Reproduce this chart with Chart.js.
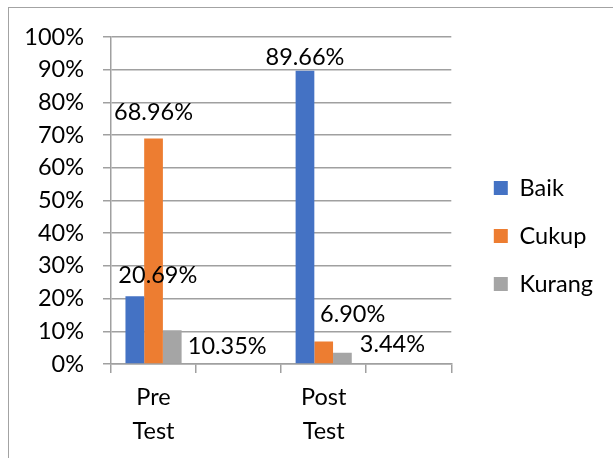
<!DOCTYPE html>
<html>
<head>
<meta charset="utf-8">
<script src="https://cdn.jsdelivr.net/npm/chart.js@4/dist/chart.umd.min.js"></script>
<style>
    html, body { margin: 0; padding: 0; background: #fff; }
    #wrap { position: relative; width: 613px; height: 458px; overflow: hidden; }
    #frame { position: absolute; left: 8px; top: 7px; width: 700px; height: 600px; border: 1.5px solid #a3a3a3; }
    #chart { position: absolute; left: 0; top: 0; }
</style>
</head>
<body>
<div id="wrap">
    <div id="frame"></div>
    <canvas id="chart" width="613" height="458"></canvas>
</div>
<script>
// Chart data
const categories = [['Pre', 'Test'], '', ['Post', 'Test'], ''];
const seriesNames = ['Baik', 'Cukup', 'Kurang'];
const baik = [20.69, null, 89.66, null];
const cukup = [68.96, null, 6.90, null];
const kurang = [10.35, null, 3.44, null];
const yTicks = [0, 10, 20, 30, 40, 50, 60, 70, 80, 90, 100];

const colors = ['#4472C4', '#ED7D31', '#A5A5A5'];
const gridColor = '#a0a0a0';
const fontFamily = 'Lato, "Open Sans", sans-serif';
const fontSize = 23.5;

// label nudges (dx, dy from bar top centre), per series / category
const labelOffsets = [
    [[23, -21], null, [0, -13], null],
    [[0, -26], null, [29, -27], null],
    [[55, 16], null, [50, -8], null]
];

/**
 * Draw value labels next to each bar
 */
const valueLabels = {
    id: 'valueLabels',
    afterDatasetsDraw(chart) {
        const ctx = chart.ctx;
        ctx.save();
        ctx.font = fontSize + 'px ' + fontFamily;
        ctx.fillStyle = '#000';
        ctx.textAlign = 'center';
        ctx.textBaseline = 'middle';
        chart.data.datasets.forEach((ds, i) => {
            chart.getDatasetMeta(i).data.forEach((bar, j) => {
                const v = ds.data[j];
                if (v === null) return;
                const off = labelOffsets[i][j] || [0, -14];
                ctx.fillText(v.toFixed(2) + '%', bar.x + off[0], bar.y + off[1]);
            });
        });
        ctx.restore();
    }
};

// push the legend a little away from the plot
const legendShift = {
    id: 'legendShift',
    afterLayout(chart) {
        if (chart.legend) {
            chart.legend.left += 18;
            chart.legend.right += 18;
            chart.legend.bottom -= 23;
        }
    }
};

new Chart(document.getElementById('chart'), {
    type: 'bar',
    data: {
        labels: categories,
        datasets: [
            { label: seriesNames[0], data: baik, backgroundColor: colors[0] },
            { label: seriesNames[1], data: cukup, backgroundColor: colors[1] },
            { label: seriesNames[2], data: kurang, backgroundColor: colors[2] }
        ]
    },
    options: {
        responsive: false,
        animation: false,
        devicePixelRatio: 1,
        layout: {
            padding: { top: 37, bottom: 0, left: 0, right: 28 }
        },
        datasets: {
            bar: {
                categoryPercentage: 0.66,
                barPercentage: 1,
                skipNull: false
            }
        },
        plugins: {
            legend: {
                position: 'right',
                labels: {
                    boxWidth: 14,
                    boxHeight: 14,
                    padding: 24.5,
                    color: '#000',
                    font: { family: fontFamily, size: fontSize }
                }
            },
            tooltip: { enabled: false }
        },
        scales: {
            x: {
                grid: {
                    drawOnChartArea: false,
                    drawTicks: true,
                    tickLength: 9,
                    color: gridColor,
                    lineWidth: 1.5
                },
                border: { color: gridColor, width: 1.5 },
                ticks: {
                    color: '#000',
                    padding: 7,
                    maxRotation: 0,
                    autoSkip: false,
                    font: { family: fontFamily, size: fontSize, lineHeight: 1.45 }
                },
                afterFit(scale) {
                    scale.height = 94;
                }
            },
            y: {
                min: 0,
                max: 100,
                afterBuildTicks(scale) {
                    scale.ticks = yTicks.map(v => ({ value: v }));
                },
                grid: {
                    color: gridColor,
                    lineWidth: 1.5,
                    tickLength: 8
                },
                border: { color: gridColor, width: 1.5 },
                ticks: {
                    color: '#000',
                    padding: 19,
                    font: { family: fontFamily, size: fontSize },
                    callback: function(value) {
                        return value + '%';
                    }
                },
                afterFit(scale) {
                    scale.width = 111;
                }
            }
        }
    },
    plugins: [valueLabels, legendShift]
});
</script>
</body>
</html>
